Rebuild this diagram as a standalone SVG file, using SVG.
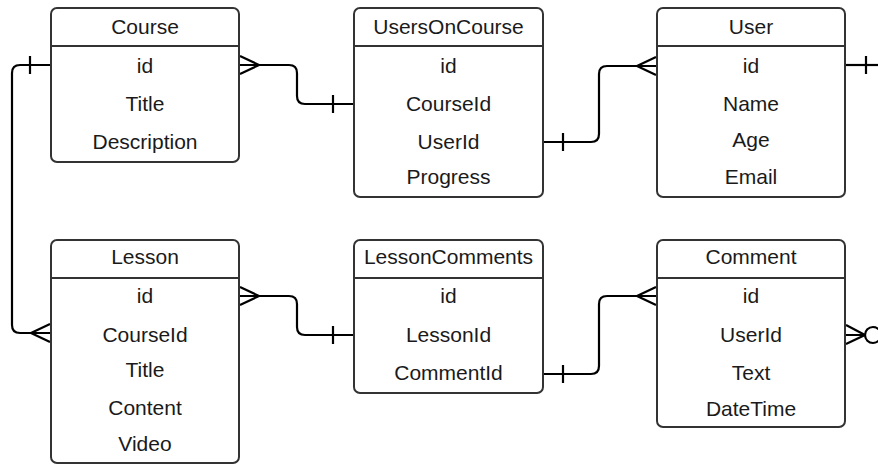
<svg xmlns="http://www.w3.org/2000/svg" width="878" height="465" viewBox="0 0 878 465">
  <style>
    .box { fill: #ffffff; stroke: #333333; stroke-width: 2; }
    .div { stroke: #333333; stroke-width: 2; }
    .t { font-family: "Liberation Sans", Arial, sans-serif; font-size: 21px; fill: #1a1a1a; text-anchor: middle; }
    .ln { fill: none; stroke: #000000; stroke-width: 2.2; stroke-linejoin: round; }
  </style>
  <rect width="878" height="465" fill="#ffffff"/>

  <!-- relationships -->
  <g id="connectors" class="ln">
    <!-- Course.id to Lesson.CourseId -->
    <path d="M50,65 H20 Q12,65 12,73 V325 Q12,333 20,333 H50"/>
    <path d="M30,56 V74"/>
    <path d="M50,324 L31,333 L50,342"/>

    <!-- Course.id to UsersOnCourse.CourseId -->
    <path d="M240,65 H289 Q297,65 297,73 V96 Q297,104 305,104 H353"/>
    <path d="M240,56 L259,65 L240,74"/>
    <path d="M333,95 V113"/>

    <!-- UsersOnCourse.UserId to User.id -->
    <path d="M544,142 H591 Q599,142 599,134 V74 Q599,66 607,66 H656"/>
    <path d="M563,133 V151"/>
    <path d="M656,57 L637,66 L656,75"/>

    <!-- User.id outgoing -->
    <path d="M846,65 H878"/>
    <path d="M866,56 V74"/>

    <!-- Lesson.id to LessonComments.LessonId -->
    <path d="M240,296 H289 Q297,296 297,304 V327 Q297,335 305,335 H353"/>
    <path d="M240,287 L259,296 L240,305"/>
    <path d="M333,326 V344"/>

    <!-- LessonComments.CommentId to Comment.id -->
    <path d="M544,374 H591 Q599,374 599,366 V304 Q599,296 607,296 H656"/>
    <path d="M563,365 V383"/>
    <path d="M656,287 L637,296 L656,305"/>

    <!-- Comment.UserId outgoing (zero or many) -->
    <path d="M846,325 L865,335 L846,344 M846,335 H865"/>
    <circle cx="873" cy="335" r="8"/>
  </g>

  <g id="course">
    <rect class="box" x="51" y="8" width="188" height="154" rx="6"/>
    <line class="div" x1="51" y1="46" x2="239" y2="46"/>
    <text class="t" x="145" y="34">Course</text>
    <text class="t" x="145" y="73">id</text>
    <text class="t" x="145" y="111">Title</text>
    <text class="t" x="145" y="149">Description</text>
  </g>

  <g id="usersOnCourse">
    <rect class="box" x="354" y="8" width="189" height="189" rx="6"/>
    <line class="div" x1="354" y1="46" x2="543" y2="46"/>
    <text class="t" x="448.5" y="34">UsersOnCourse</text>
    <text class="t" x="448.5" y="73">id</text>
    <text class="t" x="448.5" y="111">CourseId</text>
    <text class="t" x="448.5" y="149">UserId</text>
    <text class="t" x="448.5" y="184">Progress</text>
  </g>

  <g id="user">
    <rect class="box" x="657" y="8" width="188" height="189" rx="6"/>
    <line class="div" x1="657" y1="46" x2="845" y2="46"/>
    <text class="t" x="751" y="34">User</text>
    <text class="t" x="751" y="73">id</text>
    <text class="t" x="751" y="111">Name</text>
    <text class="t" x="751" y="147">Age</text>
    <text class="t" x="751" y="184">Email</text>
  </g>

  <g id="lesson">
    <rect class="box" x="51" y="240" width="188" height="223" rx="6"/>
    <line class="div" x1="51" y1="278" x2="239" y2="278"/>
    <text class="t" x="145" y="264">Lesson</text>
    <text class="t" x="145" y="303">id</text>
    <text class="t" x="145" y="342">CourseId</text>
    <text class="t" x="145" y="377">Title</text>
    <text class="t" x="145" y="415">Content</text>
    <text class="t" x="145" y="451">Video</text>
  </g>

  <g id="lessonComments">
    <rect class="box" x="354" y="240" width="189" height="153" rx="6"/>
    <line class="div" x1="354" y1="278" x2="543" y2="278"/>
    <text class="t" x="448.5" y="264">LessonComments</text>
    <text class="t" x="448.5" y="303">id</text>
    <text class="t" x="448.5" y="342">LessonId</text>
    <text class="t" x="448.5" y="380">CommentId</text>
  </g>

  <g id="comment">
    <rect class="box" x="657" y="240" width="188" height="187" rx="6"/>
    <line class="div" x1="657" y1="278" x2="845" y2="278"/>
    <text class="t" x="751" y="264">Comment</text>
    <text class="t" x="751" y="303">id</text>
    <text class="t" x="751" y="342">UserId</text>
    <text class="t" x="751" y="380">Text</text>
    <text class="t" x="751" y="416">DateTime</text>
  </g>
</svg>
